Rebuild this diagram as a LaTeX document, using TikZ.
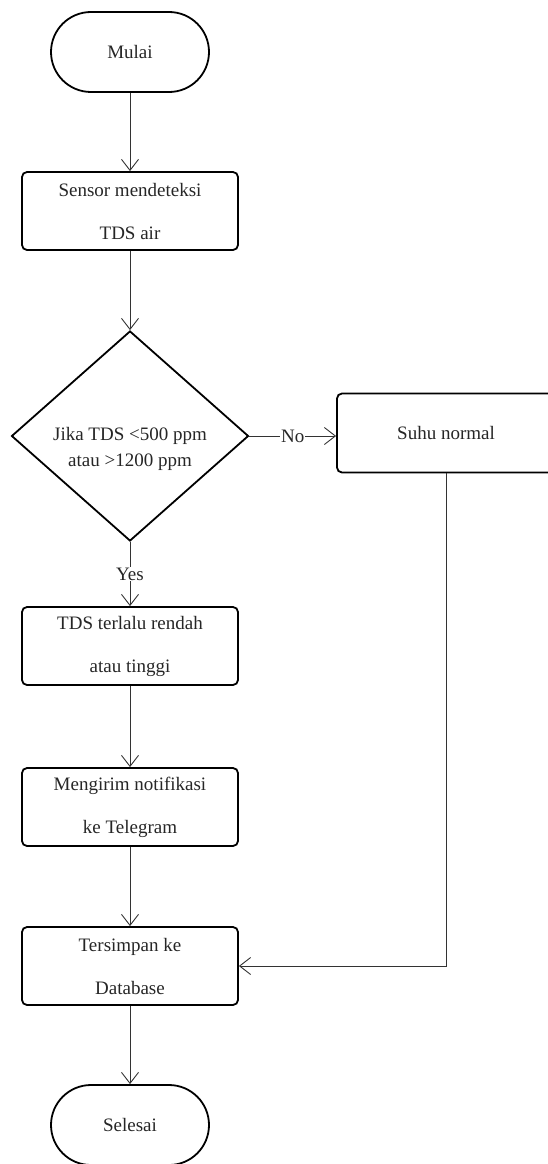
\documentclass[tikz,border=0pt]{standalone}
\usepackage{fontspec}
\setmainfont{Liberation Serif}
\usetikzlibrary{arrows.meta,shapes.geometric}

\begin{document}
\begin{tikzpicture}[x=1pt,y=-1pt,font=\fontsize{19}{26}\selectfont]
		\useasboundingbox (0,0) rectangle (547,1164);

		\begin{scope}[every node/.style={draw,line width=1.8pt,text=black!85,align=center}]
			\node[rounded corners=40pt,minimum width=158pt,minimum height=80pt] (mulai) at (130,52) {Mulai};
			\node[rounded corners=5pt,minimum width=216pt,minimum height=78pt] (sensor) at (130,211) {Sensor mendeteksi\\[17pt]TDS air};
			\node[diamond,minimum width=237pt,minimum height=210pt,inner sep=0pt] (cek) at (130,436) {};
			\node[rounded corners=5pt,minimum width=218pt,minimum height=79pt] (suhu) at (446,433) {Suhu normal};
			\node[rounded corners=5pt,minimum width=216pt,minimum height=78pt] (rendah) at (130,646) {TDS terlalu rendah\\[17pt]atau tinggi};
			\node[rounded corners=5pt,minimum width=216pt,minimum height=78pt] (kirim) at (130,807) {Mengirim notifikasi\\[17pt]ke Telegram};
			\node[rounded corners=5pt,minimum width=216pt,minimum height=78pt] (simpan) at (130,966) {Tersimpan ke\\[17pt]Database};
			\node[rounded corners=40pt,minimum width=158pt,minimum height=80pt] (selesai) at (130,1125) {Selesai};
			\node[draw=none] (cektext) at ([yshift=-13pt]cek.center) {Jika TDS <500 ppm\\atau >1200 ppm};
		\end{scope}

		\begin{scope}[>={Straight Barb[length=11pt,width=17pt]},
					  every node/.style={fill=white,inner sep=1pt,text=black!85},
					  every edge/.style={draw=black!80,line width=0.9pt}]
			\path [->] (mulai) edge (sensor);
			\path [->] (sensor) edge (cek);
			\path [->] (cek.east) edge node {No} (cek.east -| suhu.west);
			\path [->] (cek) edge node {Yes} (rendah);
			\path [->] (rendah) edge (kirim);
			\path [->] (kirim) edge (simpan);
			\path [->] (simpan) edge (selesai);
			\draw [->,draw=black!80,line width=0.9pt] (suhu.south) |- (simpan.east);
		\end{scope}
		\end{tikzpicture}
\end{document}
